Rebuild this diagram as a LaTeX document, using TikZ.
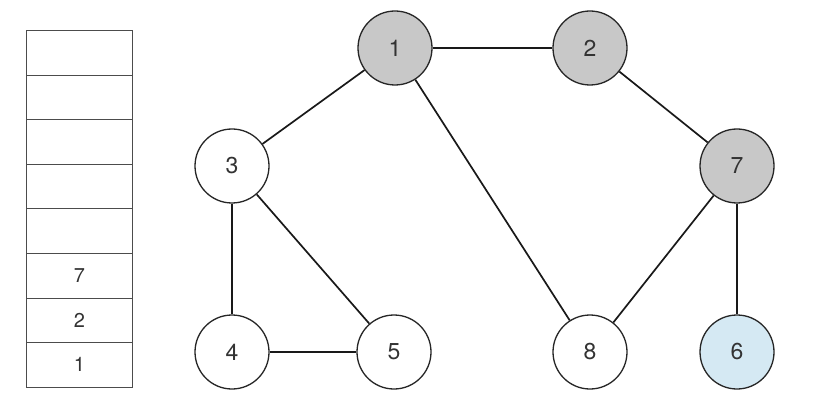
\documentclass[tikz,border=0pt]{standalone}
\usepackage{fontspec}
\setmainfont{TeX Gyre Heros}
\definecolor{visited}{HTML}{C8C8C8}
\definecolor{current}{HTML}{D5E9F3}
\definecolor{txt}{HTML}{333333}
\begin{document}
\begin{tikzpicture}[x=1pt,y=-1pt,
  vertex/.style={circle,draw=black!85,line width=1.3pt,minimum size=74pt,inner sep=0pt,font=\fontsize{23}{23}\selectfont,text=txt,fill=white},
  seen/.style={vertex,fill=visited},
  cur/.style={vertex,fill=current},
  edge/.style={line width=1.7pt,draw=black!90},
  cell/.style={draw=black!70,line width=0.8pt,minimum width=106pt,minimum height=44.6pt,inner sep=0pt,font=\fontsize{20}{20}\selectfont,text=txt,anchor=north west}]
\useasboundingbox (0,0) rectangle (818,395);
% stack
\foreach \i/\t in {0/,1/,2/,3/,4/,5/7,6/2,7/1}{
  \node[cell] (c\i) at (26,{30+\i*44.6}) {\t};
}
% vertices
\node[seen] (n1) at (395,48) {1};
\node[seen] (n2) at (590,48) {2};
\node[vertex] (n3) at (232,166) {3};
\node[seen] (n7) at (737,166) {7};
\node[vertex] (n4) at (232,352) {4};
\node[vertex] (n5) at (394,352) {5};
\node[vertex] (n8) at (590,352) {8};
\node[cur] (n6) at (737,352) {6};
% edges
\draw[edge] (n1) -- (n2);
\draw[edge] (n1) -- (n3);
\draw[edge] (n1) -- (n8);
\draw[edge] (n2) -- (n7);
\draw[edge] (n3) -- (n4);
\draw[edge] (n3) -- (n5);
\draw[edge] (n4) -- (n5);
\draw[edge] (n7) -- (n8);
\draw[edge] (n7) -- (n6);
\end{tikzpicture}
\end{document}
